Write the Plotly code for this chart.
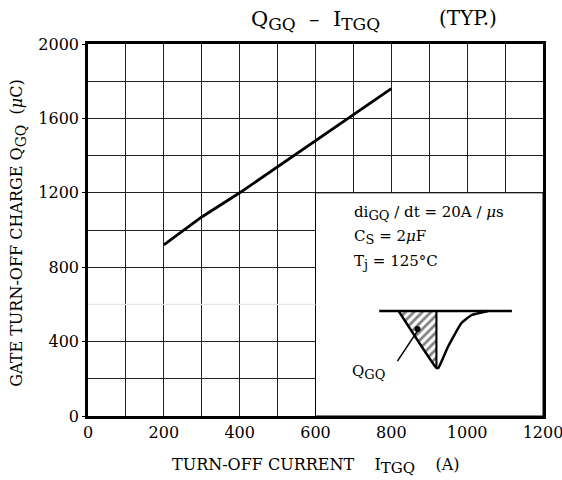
import plotly.graph_objects as go

# ---- data ----
turnoff_current = [200, 300, 400, 500, 600, 700, 800]          # I_TGQ (A)
gate_charge = [920, 1070, 1200, 1340, 1480, 1620, 1760]          # Q_GQ (uC)

x_tick_vals = [0, 200, 400, 600, 800, 1000, 1200]
x_tick_text = ["0", "200", "400", "600", "800", "1000", "1200"]
y_tick_vals = [0, 400, 800, 1200, 1600, 2000]
y_tick_text = ["0", "400", "800", "1200", "1600", "2000"]

# inset schematic (waveform sketch, in axis units)
wave_base_x = [768, 1118]
wave_base_y = [565, 565]
wave_x = [819, 919, 924, 950, 985, 1012, 1055]
wave_y = [565, 258, 258, 375, 500, 543, 565]
hatch_x = [819, 919, 919, 819]
hatch_y = [565, 565, 258, 565]
pointer_x = [816, 873]
pointer_y = [295, 470]
dot_x = [869]
dot_y = [468]

FONT = "DejaVu Serif"


def sub(t, size):
    return "<sub><span style='font-size:%dpx'>%s</span></sub>" % (size, t)


fig = go.Figure()

# hatched area
fig.add_trace(go.Scatter(
    x=hatch_x, y=hatch_y, mode="lines", fill="toself",
    fillcolor="rgba(0,0,0,0)",
    fillpattern=dict(shape="/", fgcolor="black", bgcolor="white", size=6, solidity=0.45),
    line=dict(color="black", width=1.2), hoverinfo="skip", showlegend=False))
fig.add_trace(go.Scatter(x=wave_base_x, y=wave_base_y, mode="lines",
                         line=dict(color="black", width=2.5), hoverinfo="skip", showlegend=False))
fig.add_trace(go.Scatter(x=wave_x, y=wave_y, mode="lines", line_shape="spline",
                         line=dict(color="black", width=2.5, smoothing=0.4),
                         hoverinfo="skip", showlegend=False))
fig.add_trace(go.Scatter(x=hatch_x[:3], y=hatch_y[:3], mode="lines",
                         line=dict(color="black", width=2), hoverinfo="skip", showlegend=False))
fig.add_trace(go.Scatter(x=pointer_x, y=pointer_y, mode="lines",
                         line=dict(color="black", width=1.5), hoverinfo="skip", showlegend=False))
fig.add_trace(go.Scatter(x=dot_x, y=dot_y, mode="markers",
                         marker=dict(color="black", size=6), hoverinfo="skip", showlegend=False))

# main curve
fig.add_trace(go.Scatter(x=turnoff_current, y=gate_charge, mode="lines",
                         line=dict(color="black", width=2.8), showlegend=False))

# white inset box covering grid
fig.add_shape(type="rect", xref="x", yref="y", x0=600, x1=1200, y0=0, y1=1200,
              fillcolor="white", line=dict(color="black", width=1), layer="between")
# faint gridline at 600
fig.add_shape(type="line", xref="x", yref="y", x0=0, x1=600, y0=600, y1=600,
              line=dict(color="#e6e6e6", width=1.2), layer="between")

ann_font = dict(family=FONT, size=15, color="black")
annotations = [
    dict(text="Q" + sub("GQ", 17) + "  –  I" + sub("TGQ", 17), xref="paper", yref="paper",
         x=0.5, y=1.0, yanchor="middle", yshift=24, showarrow=False,
         font=dict(family=FONT, size=21, color="black")),
    dict(text="(TYP.)", xref="paper", yref="paper", x=0.903, y=1.0, yanchor="middle", yshift=26,
         showarrow=False, font=dict(family=FONT, size=20, color="black")),
    dict(text="GATE TURN-OFF CHARGE Q" + sub("GQ", 14) + "  (<i>μ</i>C)", xref="paper", yref="paper",
         x=0, xshift=-70, xanchor="center", y=0.49, textangle=-90, showarrow=False,
         font=dict(family=FONT, size=16, color="black")),
    dict(text="TURN-OFF CURRENT    I" + sub("TGQ", 15) + "    (A)", xref="paper", yref="paper",
         x=0.5, y=0, yanchor="middle", yshift=-50, showarrow=False,
         font=dict(family=FONT, size=16, color="black")),
    dict(text="di" + sub("GQ", 13) + " / dt = 20A / <i>μ</i>s", xref="x", yref="y", x=695, y=1090,
         xanchor="left", showarrow=False, font=ann_font),
    dict(text="C" + sub("S", 13) + " = 2<i>μ</i>F", xref="x", yref="y", x=695, y=960,
         xanchor="left", showarrow=False, font=ann_font),
    dict(text="T" + sub("j", 13) + " = 125°C", xref="x", yref="y", x=695, y=828,
         xanchor="left", showarrow=False, font=ann_font),
    dict(text="Q" + sub("GQ", 13), xref="x", yref="y", x=740, y=237,
         showarrow=False, font=ann_font),
]

fig.update_layout(
    width=562, height=480,
    margin=dict(l=88, r=19, t=44, b=64, autoexpand=False),
    paper_bgcolor="white", plot_bgcolor="white",
    annotations=annotations,
    font=dict(family=FONT, size=16, color="black"),
)
fig.update_xaxes(
    range=[0, 1200], tickvals=x_tick_vals, ticktext=x_tick_text,
    showgrid=True, gridcolor="#222", gridwidth=1,
    minor=dict(dtick=100, showgrid=True, gridcolor="#222", gridwidth=1),
    showline=True, linecolor="black", linewidth=2.5, mirror=True,
    ticks="", zeroline=False, tickfont=dict(family=FONT, size=16), ticklabelstandoff=0,
    ticklabeloverflow="allow", automargin=False,
)
fig.update_yaxes(
    range=[0, 2000], tickvals=y_tick_vals, ticktext=y_tick_text,
    showgrid=True, gridcolor="#222", gridwidth=1,
    minor=dict(dtick=200, showgrid=True, gridcolor="#222", gridwidth=1),
    showline=True, linecolor="black", linewidth=2.5, mirror=True,
    ticks="outside", ticklen=3, tickcolor="black", zeroline=False,
    tickfont=dict(family=FONT, size=16), ticklabelstandoff=0,
    ticklabeloverflow="allow", automargin=False,
)

fig.write_html("out.html", config={"displayModeBar": False},
               post_script="document.body.style.margin='0';")
